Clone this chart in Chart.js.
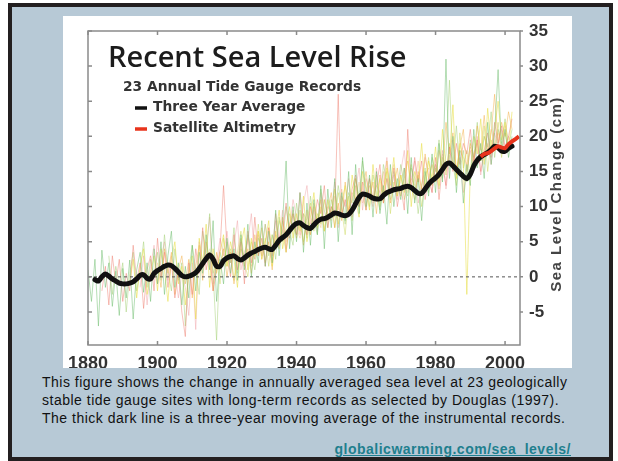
<!DOCTYPE html>
<html>
<head>
<meta charset="utf-8">
<script src="https://cdn.jsdelivr.net/npm/chart.js@4"></script>
<style>
  html, body { margin: 0; padding: 0; background: #fff; }
  #panel {
    position: absolute; left: 8px; top: 3px;
    width: 597px; height: 450px;
    border: 4px solid #231f20;
    background: #b7c9d6;
  }
  #plot {
    position: absolute; left: 51px; top: 9px;
    width: 509px; height: 352px; background: #fff;
  }
  #caption {
    position: absolute; left: 30px; top: 366px; width: 575px;
    font: 14px "Liberation Sans", Arial, sans-serif; line-height: 18px; color: #111;
    letter-spacing: 0.5px;
  }
  #link {
    position: absolute; right: 38px; top: 434px;
    font: bold 14px "Liberation Sans", Arial, sans-serif; color: #1e7f8e;
    text-decoration: underline; letter-spacing: 0.5px;
  }
</style>
</head>
<body>
<div id="panel">
  <div id="plot"><canvas id="chart" width="509" height="352"></canvas></div>
  <div id="caption">This figure shows the change in annually averaged sea level at 23 geologically<br>stable tide gauge sites with long-term records as selected by Douglas (1997).<br>The thick dark line is a three-year moving average of the instrumental records.</div>
  <div id="link">globalicwarming.com/sea_levels/</div>
</div>
<script>
const xTicks = [1880, 1900, 1920, 1940, 1960, 1980, 2000];
const yTicks = [-5, 0, 5, 10, 15, 20, 25, 30, 35];

// three year average (cm), one value per year from 1882
const avgStart = 1882;
const threeYearAvg = [
  -0.4, -0.6, 0.0, 0.4, 0.1, -0.3, -0.6, -0.9,
  -1.0, -1.0, -0.9, -0.7, -0.3, 0.2, 0.3, -0.2, -0.3, 0.5,
  0.9, 1.2, 1.5, 1.7, 1.6, 1.2, 0.7, 0.2, 0.0, 0.1,
  0.3, 0.6, 1.2, 1.9, 2.6, 3.1, 2.5, 1.5, 1.5, 2.3,
  2.7, 2.9, 3.0, 2.6, 2.4, 2.7, 3.1, 3.4, 3.6, 3.9,
  4.1, 4.2, 4.0, 3.9, 4.5, 5.2, 5.6, 6.0, 6.6, 7.2,
  7.6, 7.7, 7.3, 7.0, 6.9, 7.4, 7.9, 8.2, 8.3, 8.5,
  8.8, 9.1, 9.0, 8.8, 8.7, 8.9, 9.5, 10.4, 11.3, 11.8,
  11.7, 11.5, 11.2, 11.1, 11.1, 11.6, 12.0, 12.2, 12.4, 12.5,
  12.6, 12.8, 12.9, 12.7, 12.3, 11.9, 11.9, 12.5, 13.2, 13.7,
  14.1, 14.6, 15.3, 16.0, 16.2, 15.8, 15.3, 14.8, 14.3, 14.0,
  14.6, 15.8, 16.6, 17.1, 17.4, 17.7, 18.1, 18.6, 18.4, 17.9,
  17.9, 18.3, 18.6
];

// satellite altimetry from 1993
const satStart = 1993;
const satellite = [17.1, 17.5, 17.6, 17.9, 18.3, 18.6, 18.4, 18.3, 18.9, 19.3, 19.6, 20.0];

// individual tide gauge records (cm), annual values
const gaugeStarts = [1880, 1884, 1892, 1900, 1886, 1895, 1915, 1925];
const gaugeA = [
  1.0, -3.5, 2.5, -7.0, 3.8, -1.5, 2.0, -4.2, 0.8, -5.5,
  1.2, -3.0, 2.4, -6.0, 1.0, 3.5, -2.2, 2.0, -3.5, 4.0,
  -1.0, 5.0, -2.5, 3.0, 6.5, -1.5, 2.0, -4.0, 1.5, -3.0,
  4.5, -2.0, 3.5, 0.5, 6.0, 1.0, 8.0, -3.5, 2.5, -1.0,
  5.5, 0.5, 4.0, -0.5, 6.0, 1.0, 7.5, 0.0, 5.0, 2.0,
  8.0, 1.5, 6.5, 2.0, 9.5, 3.0, 8.0, 16.5, 4.0, 10.0,
  5.0, 12.0, 3.5, 10.5, 4.5, 11.0, 6.0, 13.0, 4.0, 12.5,
  7.0, 14.0, 5.0, 12.0, 8.0, 15.0, 6.0, 16.0, 9.0, 17.0,
  10.0, 14.5, 8.5, 15.0, 9.0, 13.0, 7.5, 16.0, 10.0, 14.0,
  11.0, 15.5, 9.0, 17.0, 10.5, 14.0, 8.0, 15.0, 11.5, 17.5,
  12.0, 19.0, 13.5, 31.0, 14.0, 20.0, 12.0, 18.0, 10.5, 16.0,
  13.0, 21.0, 15.5, 19.0, 14.0, 22.0, 16.0, 20.5, 29.5, 18.0,
  21.0, 17.0, 20.0
];
const gaugeB = [
  -2.0, 1.5, -4.0, 3.0, -1.0, 2.5,
  -3.5, 0.5, -2.0, 4.5, -0.5, 2.0, -4.5, 1.0, 3.0, -2.0,
  5.5, 0.0, 3.5, -1.5, 2.0, -3.0, 1.0, -5.0, -8.5, 2.0,
  -2.5, 4.0, 0.5, 7.0, 1.0, 3.5, -2.0, 1.0, 4.0, 13.0,
  4.0, 0.0, 6.0, 1.0, 5.0, -1.0, 6.5, 2.0, 8.5, 3.0,
  5.5, 1.5, 7.0, 3.0, 9.0, 4.5, 6.5, 10.5, 5.5, 9.0,
  6.0, 12.0, 8.0, 6.0, 10.0, 7.5, 11.0, 9.0, 13.0, 7.0,
  10.0, 9.0, 26.0, 8.5, 11.0, 9.0, 12.5, 14.5, 10.0, 13.5,
  9.5, 14.0, 11.0, 13.0, 16.0, 10.5, 14.0, 12.0, 15.5, 10.0,
  13.0, 9.5, 21.0, 12.5, 17.0, 13.5, 16.5, 11.0, 14.0, 12.0,
  17.0, 11.0, 16.0, 13.0, 18.5, 15.0, 19.0, 16.0, 19.0, 17.5,
  21.0, 16.5, 19.5, 15.0, 18.0, 20.5, 17.0, 22.0, 19.0, 21.5,
  18.5, 20.0, 22.5
];
const gaugeC = [
  -1.0, 2.5, -3.0, 1.5, 4.0, -2.5, 0.5, 3.0,
  -2.0, 4.0, 1.0, -3.5, 2.5, 5.0, -1.0, 1.5, -4.0, 0.5,
  3.0, -6.0, 5.5, 2.0, 7.5, -1.5, 4.0, 0.5, 3.5, 6.0,
  1.5, 5.0, 2.5, -1.5, 4.5, 7.0, 1.0, 5.5, 3.0, 6.5,
  2.5, 5.0, 8.0, 1.5, 6.0, 9.5, 4.0, 7.0, 10.0, 5.5,
  9.0, 6.5, 11.5, 5.0, 8.5, 12.0, 7.0, 10.0, 6.5, 11.0,
  8.5, 12.5, 7.5, 10.5, 13.0, 9.0, 14.5, 11.0, 8.5, 15.0,
  12.5, 9.5, 16.0, 11.0, 14.0, 10.5, 15.5, 13.0, 17.0, 11.5,
  14.5, 12.0, 18.0, 10.0, 15.0, 13.5, 19.0, 12.5, 16.5, 14.0,
  18.5, 13.0, 21.0, 15.5, 17.0, 24.5, 14.0, 19.0, 16.5, -2.5,
  15.0, 20.0, 17.5, 22.5, 16.0, 24.0, 18.5, 21.0, 25.0, 19.5,
  22.0, 18.0, 23.5
];
const gaugeD = [
  2.0, -1.5, 4.0, 0.5, 3.5, -2.5, 1.0, 3.0, -1.0, 2.5,
  -3.0, 1.5, 4.5, -0.5, 5.0, 2.0, -2.0, 3.5, 1.0, 4.0,
  0.0, 3.5, -1.0, 2.5, 5.5, 1.5, 4.0, 0.5, 6.0, 3.0,
  7.0, 2.0, 5.0, 1.0, 6.5, 4.0, 8.5, 3.5, 7.5, 9.0,
  5.5, 8.0, 4.5, 9.5, 6.0, 10.0, 7.5, 11.0, 6.5, 9.5,
  12.0, 7.0, 10.5, 8.0, 13.5, 9.5, 11.0, 14.0, 10.0, 12.5,
  15.0, 11.0, 13.5, 9.0, 14.5, 12.0, 16.5, 10.5, 13.0, 15.5,
  11.5, 14.0, 16.5, 13.0, 11.0, 15.0, 12.5, 17.5, 14.0, 16.0,
  13.5, 18.0, 15.0, 22.0, 17.5, 20.5, 14.5, 18.5, 21.0, 15.0,
  19.0, 16.0, 21.5, 18.0, 23.0, 17.5, 20.5, 26.0, 19.0, 22.0,
  20.0, 23.5, 21.0
];
const gaugeE = [
  3.0, -2.5, 1.5, -1.0,
  2.0, -5.0, 0.5, 3.5, -2.0, 1.0, 5.0, -1.5, 2.5, 0.0,
  3.5, -0.5, 6.0, 1.0, -2.0, 4.0, -0.5, 2.0, -7.0, 1.0,
  4.5, 1.0, -2.5, 6.5, 3.0, 9.0, 0.5, -9.0, 3.5, 1.5,
  5.0, 2.0, 7.0, 0.5, 4.0, 2.5, 6.0, 3.5, 1.0, 5.5,
  4.0, 7.5, 3.0, 6.0, 2.5, 8.5, 5.0, 10.0, 6.5, 4.5,
  10.5, 7.0, 9.0, 5.5, 11.5, 8.0, 6.0, 12.5, 9.5, 7.0,
  11.0, 8.5, 13.0, 10.0, 7.5, 12.0, 10.5, 14.0, 11.5, 16.5,
  13.0, 10.0, 14.5, 12.0, 9.5, 16.0, 13.5, 11.0, 15.0, 12.5,
  16.0, 13.0, 11.5, 15.5, 14.0, 9.0, 13.0, 15.5, 12.0, 17.0,
  15.0, 19.5, 14.0, 17.5, 28.0, 16.0, 21.5, 15.0, 18.0, 13.5,
  19.5, 17.0, 22.0, 16.5, 20.0, 18.5, 23.5, 17.0, 21.0, 19.0,
  22.5, 18.5, 21.0
];
const gaugeF = [
  -1.5, 3.0, -4.0, 1.5, 4.5,
  -1.0, 2.5, 5.0, -0.5, 3.0, 1.0, -3.0, 0.5, -1.5, -5.5,
  2.0, -7.5, 5.0, 1.5, 4.0, 8.5, -1.0, 2.0, 5.5, 3.0,
  6.5, 2.0, 4.5, 8.0, 1.0, 3.5, 5.0, 9.0, 2.5, 6.0,
  3.0, 7.5, 4.5, 2.0, 8.0, 5.5, 9.5, 4.0, 7.0, 11.0,
  8.5, 6.0, 10.5, 13.0, 7.5, 9.5, 6.5, 12.0, 8.0, 10.0,
  9.0, 13.5, 7.0, 11.5, 10.0, 14.0, 8.5, 12.5, 15.5, 9.5,
  14.0, 12.0, 10.0, 15.5, 11.5, 13.5, 17.0, 12.0, 14.5, 11.0,
  15.0, 18.0, 12.5, 14.0, 16.5, 10.5, 13.0, 17.0, 14.5, 12.0,
  16.0, 14.5, 18.0, 12.5, 16.5, 19.5, 15.5, 17.0, 12.0, 15.0,
  18.0, 15.5, 20.0, 14.5, 17.5, 19.0, 16.0, 20.5, 18.5, 21.0,
  17.5, 20.0, 19.0
];
const gaugeG = [
  4.0, 0.5, 2.5, -1.0, 5.5,
  1.5, 4.0, -0.5, 3.5, 6.5, 2.0, 0.0, 5.0, 2.5, 7.5,
  3.0, 5.5, 1.5, 6.0, 4.0, 8.0, 6.5, 3.5, 9.0, 7.0,
  6.0, 9.5, 5.0, 8.0, 10.5, 6.5, 9.0, 7.5, 11.0, 8.0,
  10.0, 7.0, 12.0, 9.5, 6.0, 11.5, 8.0, 13.0, 10.5, 12.0,
  9.5, 13.0, 11.0, 14.5, 10.0, 12.5, 15.0, 9.0, 13.5, 11.5,
  14.5, 11.0, 13.0, 16.0, 12.0, 14.5, 10.0, 13.5, 17.0, 13.0,
  15.5, 12.5, 17.0, 14.5, 19.0, 16.0, 13.0, 20.5, 15.5, 18.0,
  14.0, 17.5, 19.0, 16.5, 21.5, 15.0, 19.5, 18.0, 22.0, 17.0,
  20.5, 18.0
];
const gaugeH = [
  3.0, 5.5, 1.5, 4.0, 6.5,
  2.5, 5.0, 7.0, 3.5, 6.0, 4.5, 8.0, 5.0, 7.5, 9.5,
  7.0, 5.5, 9.0, 8.0, 6.0, 10.5, 8.5, 7.0, 11.0, 9.0,
  8.0, 11.5, 9.5, 12.5, 10.0, 8.5, 12.0, 11.0, 13.5, 10.5,
  12.0, 14.0, 10.5, 13.0, 12.0, 15.0, 11.5, 13.5, 16.0, 12.5,
  13.5, 15.5, 12.0, 14.0, 13.0, 16.5, 11.5, 14.5, 15.5, 13.0,
  16.0, 14.0, 17.5, 15.0, 18.5, 16.5, 15.0, 18.0, 17.0, 16.0,
  18.5, 17.0, 19.5, 16.5, 20.0, 18.0, 21.0, 19.0, 20.5, 18.5,
  21.5, 19.5
];
const gauges = [gaugeA, gaugeB, gaugeC, gaugeD, gaugeE, gaugeF, gaugeG, gaugeH];
const gaugeColors = [
  'rgba(110, 190, 110, 0.5)', 'rgba(238, 120, 105, 0.45)', 'rgba(232, 222, 70, 0.55)',
  'rgba(242, 170, 60, 0.45)', 'rgba(165, 210, 120, 0.5)', 'rgba(240, 160, 165, 0.45)',
  'rgba(200, 212, 80, 0.45)', 'rgba(245, 190, 130, 0.45)'
];

const xMin = 1880, xMax = 2004.3;
const yMin = -9.7, yMax = 35;

const toPoints = (start, vals) => vals.map((v, i) => ({ x: start + i, y: v }));

const datasets = gauges.map((g, i) => ({
  data: toPoints(gaugeStarts[i], g),
  borderColor: gaugeColors[i],
  borderWidth: 1,
  pointRadius: 0,
  order: 10 + i,
}));
datasets.push({
  data: [{ x: xMin, y: 0 }, { x: xMax, y: 0 }],
  borderColor: '#555',
  borderWidth: 1,
  borderDash: [3, 3],
  pointRadius: 0,
  order: 5,
});
datasets.push({
  data: toPoints(avgStart, threeYearAvg),
  borderColor: '#111',
  borderWidth: 5,
  tension: 0.3,
  pointRadius: 0,
  borderCapStyle: 'round',
  borderJoinStyle: 'round',
  order: 1,
});
datasets.push({
  data: toPoints(satStart, satellite),
  borderColor: '#e8341c',
  borderWidth: 4,
  tension: 0.2,
  pointRadius: 0,
  order: 0,
});

const framePlugin = {
  id: 'frame',
  afterDraw(chart) {
    const { ctx, chartArea: a, scales: { x, y } } = chart;
    ctx.save();
    ctx.strokeStyle = '#8a8a8a';
    ctx.lineWidth = 1.5;
    ctx.strokeRect(a.left, a.top, a.width, a.height);
    ctx.beginPath();
    x.ticks.forEach(t => {
      const px = x.getPixelForValue(t.value);
      ctx.moveTo(px, a.bottom); ctx.lineTo(px, a.bottom - 4);
      ctx.moveTo(px, a.top); ctx.lineTo(px, a.top + 4);
    });
    y.ticks.forEach(t => {
      const py = y.getPixelForValue(t.value);
      ctx.moveTo(a.left, py); ctx.lineTo(a.left + 4, py);
      ctx.moveTo(a.right, py); ctx.lineTo(a.right + 3, py);
    });
    ctx.stroke();

    // axis title, reads bottom to top
    ctx.translate(a.right + 37, (a.top + a.bottom) / 2 + 6);
    ctx.rotate(-Math.PI / 2);
    ctx.fillStyle = '#444';
    ctx.font = 'bold 15px "Liberation Sans", Arial, sans-serif';
    ctx.letterSpacing = '1.5px';
    ctx.textAlign = 'center';
    ctx.textBaseline = 'middle';
    ctx.fillText('Sea Level Change (cm)', 0, 0);
    ctx.restore();
  }
};

const headerPlugin = {
  id: 'header',
  afterDatasetsDraw(chart) {
    const { ctx, chartArea: a } = chart;
    ctx.save();
    ctx.textBaseline = 'alphabetic';
    ctx.fillStyle = '#1c1c1c';
    ctx.font = '600 29px "Open Sans", "DejaVu Sans", sans-serif';
    ctx.fillText('Recent Sea Level Rise', a.left + 20, a.top + 36);
    ctx.fillStyle = '#333';
    ctx.font = 'bold 13.8px "DejaVu Sans", sans-serif';
    ctx.textBaseline = 'middle';
    ctx.fillText('23 Annual Tide Gauge Records', a.left + 35, a.top + 56);
    ctx.fillText('Three Year Average', a.left + 65, a.top + 76);
    ctx.fillText('Satellite Altimetry', a.left + 65, a.top + 97);
    ctx.lineWidth = 3.5;
    ctx.strokeStyle = '#111';
    ctx.beginPath(); ctx.moveTo(a.left + 47, a.top + 77); ctx.lineTo(a.left + 59, a.top + 77); ctx.stroke();
    ctx.strokeStyle = '#e8341c';
    ctx.beginPath(); ctx.moveTo(a.left + 47, a.top + 98); ctx.lineTo(a.left + 59, a.top + 98); ctx.stroke();
    ctx.restore();
  }
};

const xFont = { family: '"Liberation Sans", Arial, sans-serif', size: 18, weight: 'bold' };
const yFont = { family: '"Liberation Sans", Arial, sans-serif', size: 17, weight: 'bold' };

new Chart(document.getElementById('chart'), {
  type: 'line',
  data: { datasets },
  options: {
    responsive: false,
    animation: false,
    layout: { padding: { left: 25, top: 15, right: 0, bottom: 0 } },
    plugins: { legend: { display: false }, tooltip: { enabled: false } },
    scales: {
      x: {
        type: 'linear', min: xMin, max: xMax,
        afterBuildTicks: s => { s.ticks = xTicks.map(v => ({ value: v })); },
        afterFit: s => { s.height = 23; },
        grid: { display: false },
        border: { display: false },
        ticks: { color: '#333', font: xFont, padding: 0, maxRotation: 0, autoSkip: false,
          callback: v => String(v) },
      },
      y: {
        type: 'linear', position: 'right', min: yMin, max: yMax,
        afterBuildTicks: s => { s.ticks = yTicks.map(v => ({ value: v })); },
        afterFit: s => { s.width = 52; },
        grid: { display: false },
        border: { display: false },
        ticks: { color: '#333', font: yFont, padding: 1, autoSkip: false },
      },
    },
  },
  plugins: [headerPlugin, framePlugin],
});
</script>
</body>
</html>
